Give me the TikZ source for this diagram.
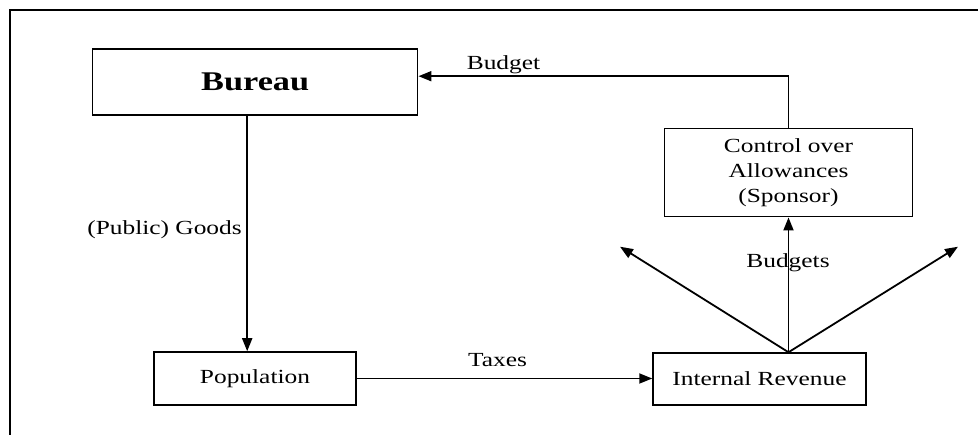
\documentclass[tikz,border=0pt]{standalone}
\usepackage{fontspec}
\setmainfont{Liberation Serif}[FakeStretch=1.27]
\usetikzlibrary{arrows.meta,calc}
\tikzset{
  box/.style={draw, line width=1.5pt, rectangle, inner sep=0pt, align=center,
    font=\fontsize{20}{25}\selectfont},
  arr/.style={line width=1.8pt, -{Triangle[length=13pt,width=10pt]}},
  lbl/.style={inner sep=0pt, anchor=base, font=\fontsize{20}{24}\selectfont},
}
\begin{document}
\begin{tikzpicture}[x=1pt,y=-1pt]
\clip (0,0) rectangle (978,435);
\useasboundingbox (0,0) rectangle (978,435);
\fill[white] (0,0) rectangle (978,435);
% frame
\draw[line width=2.5pt] (10,445) -- (10,10) -- (990,10);
% nodes
\node[box, minimum width=325pt, minimum height=66pt, font=\bfseries\fontsize{27}{30}\selectfont] (bureau) at (255.2,82.2) {Bureau};
\node[box, minimum width=202pt, minimum height=53pt] (population) at (255,378.5) {Population};
\node[box, minimum width=213pt, minimum height=52pt] (revenue) at (759.5,379) {Internal Revenue};
\node[box, minimum width=247.6pt, minimum height=88.4pt] (control) at (788.5,172.5) {Control over\\Allowances\\(Sponsor)};
% coordinates
\coordinate (src) at (control.south |- revenue.north);
\coordinate (leftend) at (620,246.7);
\coordinate (rightend) at (958,246.7);
% connectors
\draw[arr] ([xshift=-8pt]bureau.south) -- ([xshift=-8pt]bureau.south |- population.north);
\draw[arr] (population.east) -- (revenue.west |- population.east);
\draw[arr] (control.north) |- ([yshift=6pt]bureau.east);
\draw[arr] (src) -- (control.south);
\draw[arr] (src) -- (leftend);
\draw[arr] (src) -- (rightend);
% labels
\node[lbl] (lbudget) at (503.5,70) {Budget};
\node[lbl, anchor=base east] (lgoods) at (242,235) {(Public) Goods};
\node[lbl] (ltaxes) at (497.5,366.7) {Taxes};
\node[lbl] (lbudgets) at (788,268) {Budgets};
\end{tikzpicture}
\end{document}
